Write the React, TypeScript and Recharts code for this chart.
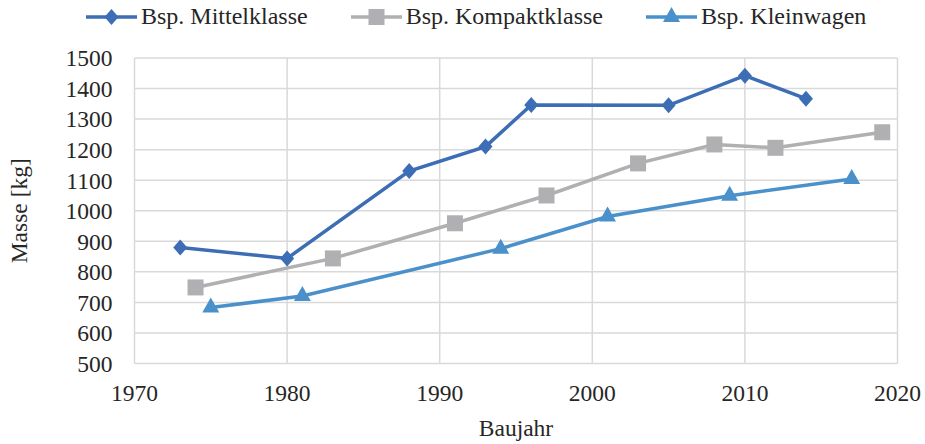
import React from "react";
import { LineChart, Line, XAxis, YAxis, CartesianGrid } from "recharts";

const mittelYears = [1973, 1980, 1988, 1993, 1996, 2005, 2010, 2014];
const mittelMass = [880, 844, 1130, 1210, 1346, 1345, 1442, 1367];

const kompaktYears = [1974, 1983, 1991, 1997, 2003, 2008, 2012, 2019];
const kompaktMass = [749, 844, 959, 1050, 1155, 1217, 1206, 1257];

const kleinYears = [1975, 1981, 1994, 2001, 2009, 2017];
const kleinMass = [683, 721, 876, 981, 1049, 1104];

const xTicks = [1970, 1980, 1990, 2000, 2010, 2020];
const yTicks = [500, 600, 700, 800, 900, 1000, 1100, 1200, 1300, 1400, 1500];

const FONT = '"Liberation Serif", serif';
const TEXT = "#262626";

const toRows = (years: number[], mass: number[]) => years.map((year, i) => ({ year, kg: mass[i] }));

const Diamond = ({ cx, cy, fill }: any) => (
  <polygon points={`${cx},${cy - 8} ${cx + 7},${cy} ${cx},${cy + 8} ${cx - 7},${cy}`} fill={fill} />
);
const Square = ({ cx, cy, fill }: any) => <rect x={cx - 8} y={cy - 8} width={16} height={16} fill={fill} />;
const Triangle = ({ cx, cy, fill }: any) => (
  <polygon points={`${cx},${cy - 10} ${cx + 8.5},${cy + 5} ${cx - 8.5},${cy + 5}`} fill={fill} />
);

const series = [
  { name: "Bsp. Mittelklasse", color: "#3c6db5", data: toRows(mittelYears, mittelMass), Marker: Diamond },
  { name: "Bsp. Kompaktklasse", color: "#b0b0b3", data: toRows(kompaktYears, kompaktMass), Marker: Square },
  { name: "Bsp. Kleinwagen", color: "#4a91cb", data: toRows(kleinYears, kleinMass), Marker: Triangle },
];

const LegendRow = () => (
  <div
    style={{
      position: "absolute",
      top: 3,
      left: 86,
      display: "flex",
      alignItems: "center",
      fontFamily: FONT,
      fontSize: 24,
      color: TEXT,
      whiteSpace: "nowrap",
    }}
  >
    {series.map(({ name, color, Marker }) => (
      <div key={name} style={{ display: "flex", alignItems: "center", marginRight: 43 }}>
        <svg width={51} height={24} style={{ marginRight: 4 }}>
          <line x1={0} y1={12} x2={51} y2={12} stroke={color} strokeWidth={3.5} />
          <Marker cx={25.5} cy={12} fill={color} />
        </svg>
        <span>{name}</span>
      </div>
    ))}
  </div>
);

export default function App() {
  return (
    <div style={{ position: "absolute", left: 0, top: 0, width: 925, height: 444, background: "#fff" }}>
      <LegendRow />
      <LineChart
        width={925}
        height={444}
        margin={{ top: 58, right: 27.5, bottom: 0, left: 0 }}
        style={{ fontFamily: FONT }}
      >
        <CartesianGrid stroke="#d9d9d9" strokeWidth={1.5} />
        <XAxis
          type="number"
          dataKey="year"
          domain={[1970, 2020]}
          ticks={xTicks}
          interval={0}
          axisLine={false}
          tickLine={false}
          tickSize={0}
          tickMargin={21}
          height={80.5}
          tick={{ fontSize: 23.5, fill: TEXT, fontFamily: FONT }}
          label={{
            content: ({ viewBox }: any) => (
              <text
                x={viewBox.x + viewBox.width / 2}
                y={436}
                textAnchor="middle"
                fontFamily={FONT}
                fontSize={23.5}
                fill={TEXT}
              >
                Baujahr
              </text>
            ),
          }}
        />
        <YAxis
          type="number"
          domain={[500, 1500]}
          ticks={yTicks}
          interval={0}
          width={134.5}
          axisLine={false}
          tickLine={false}
          tickSize={0}
          tickMargin={22}
          tick={{ fontSize: 23.5, fill: TEXT, fontFamily: FONT }}
          label={{
            content: ({ viewBox }: any) => {
              const cy = viewBox.y + viewBox.height / 2;
              return (
                <text
                  x={19}
                  y={cy}
                  transform={`rotate(-90 19 ${cy})`}
                  textAnchor="middle"
                  dominantBaseline="central"
                  fontFamily={FONT}
                  fontSize={23.5}
                  fill={TEXT}
                >
                  Masse [kg]
                </text>
              );
            },
          }}
        />
        {series.map(({ name, color, data, Marker }) => (
          <Line
            key={name}
            name={name}
            data={data}
            dataKey="kg"
            stroke={color}
            strokeWidth={3.5}
            isAnimationActive={false}
            dot={(p: any) => <Marker key={`${name}-${p.index}`} cx={p.cx} cy={p.cy} fill={color} />}
            activeDot={false}
          />
        ))}
      </LineChart>
    </div>
  );
}
